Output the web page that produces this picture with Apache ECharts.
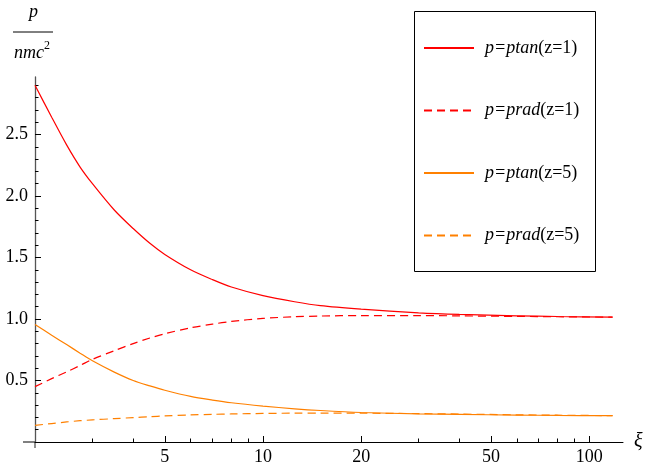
<!DOCTYPE html>
<html>
<head>
<meta charset="utf-8">
<script src="https://cdn.jsdelivr.net/npm/echarts@6/dist/echarts.min.js"></script>
<style>html,body{margin:0;padding:0;background:#fff}#c{width:649px;height:466px}</style>
</head>
<body>
<div id="c"></div>
<script>
// Data
const xi       = [2, 2.25, 2.5, 2.75, 3, 3.5, 4, 4.5, 5, 6, 7, 8, 10, 12.5, 15, 20, 30, 40, 60, 80, 118];
const ptanZ1   = [2.90, 2.64, 2.415, 2.235, 2.10, 1.886, 1.735, 1.615, 1.525, 1.40, 1.32, 1.26, 1.19, 1.14, 1.108, 1.08, 1.05, 1.037, 1.026, 1.02, 1.015];
const pradZ1   = [0.45, 0.515, 0.57, 0.622, 0.672, 0.742, 0.80, 0.845, 0.88, 0.928, 0.958, 0.98, 1.005, 1.018, 1.024, 1.028, 1.028, 1.025, 1.021, 1.018, 1.015];
const ptanZ5   = [0.955, 0.868, 0.792, 0.722, 0.66, 0.568, 0.50, 0.456, 0.421, 0.371, 0.341, 0.319, 0.292, 0.270, 0.256, 0.240, 0.229, 0.224, 0.219, 0.216, 0.214];
const pradZ5   = [0.135, 0.15, 0.163, 0.173, 0.18, 0.19, 0.198, 0.205, 0.212, 0.22, 0.225, 0.228, 0.232, 0.234, 0.234, 0.234, 0.231, 0.227, 0.221, 0.218, 0.214];
const seriesNames = ['p=ptan(z=1)', 'p=prad(z=1)', 'p=ptan(z=5)', 'p=prad(z=5)'];
const xMajorTicks = [5, 10, 20, 50, 100];
const xMinorTicks = [3, 4, 6, 7, 8, 9, 30, 40, 60, 70, 80, 90];
const yMajorTicks = [0.5, 1.0, 1.5, 2.0, 2.5];
const yMinorTicks = [0.1,0.2,0.3,0.4,0.6,0.7,0.8,0.9,1.1,1.2,1.3,1.4,1.6,1.7,1.8,1.9,2.1,2.2,2.3,2.4,2.6,2.7,2.8,2.9];

const pairs = ys => xi.map((x, i) => [x, ys[i]]);
const FONT = "'Liberation Serif', 'DejaVu Serif', serif";
const RED = '#ff0000', ORANGE = '#ff8000';

const chart = echarts.init(document.getElementById('c'), null, {renderer: 'canvas'});
const XMIN = 2, XMAX = 127, YMIN = 0, YMAX = 2.967;

function mkSeries(name, ys, color, dashed) {
  return {
    name, type: 'line', data: pairs(ys), smooth: 0.3,
    symbol: 'none', showSymbol: false,
    xAxisIndex: 0, yAxisIndex: 0,
    lineStyle: {color, width: 1.2, type: dashed ? [8, 5] : 'solid'},
    itemStyle: {color}, emphasis: {disabled: true}
  };
}

chart.setOption({
  animation: false,
  backgroundColor: '#fff',
  grid: {left: 35, right: 26, top: 77, bottom: 24, containLabel: false},
  legend: {
    orient: 'vertical', left: 414, top: 11,
    padding: [28, 17, 27, 9],
    itemGap: 44.5, itemWidth: 50, itemHeight: 20,
    itemStyle: {opacity: 0},
    data: seriesNames,
    formatter: n => {
      const m = n.match(/^(p=p\w+)(\(.*\))$/);
      return '{i|' + m[1] + '}{n|' + m[2] + '}';
    },
    textStyle: {
      rich: {
        i: {fontFamily: FONT, fontStyle: 'italic', fontSize: 18, color: '#000', lineHeight: 20, padding: [0, 0, 0, 6]},
        n: {fontFamily: FONT, fontSize: 18, color: '#000', lineHeight: 20}
      }
    }
  },
  xAxis: [{
    type: 'log', logBase: 10, min: XMIN, max: XMAX,
    name: 'ξ', nameLocation: 'end', nameGap: 11,
    nameTextStyle: {fontFamily: FONT, fontStyle: 'italic', fontSize: 20, color: '#000', verticalAlign: 'middle'},
    axisLine: {show: true, onZero: false, lineStyle: {color: '#000', width: 1}},
    axisTick: {show: true, inside: true, length: 6, customValues: xMajorTicks, lineStyle: {color: '#000'}},
    axisLabel: {show: true, customValues: xMajorTicks, fontFamily: FONT, fontSize: 18, color: '#000', margin: 6},
    splitLine: {show: false}, minorTick: {show: false}
  }, {
    type: 'log', logBase: 10, min: XMIN, max: XMAX, position: 'bottom',
    axisLine: {show: false},
    axisTick: {show: true, inside: true, length: 3.5, customValues: xMinorTicks, lineStyle: {color: '#000'}},
    axisLabel: {show: false}, splitLine: {show: false}
  }],
  yAxis: [{
    type: 'value', min: YMIN, max: YMAX,
    axisLine: {show: true, onZero: false, lineStyle: {color: '#555', width: 1.3}},
    axisTick: {show: true, inside: true, length: 6, customValues: yMajorTicks, lineStyle: {color: '#000'}},
    axisLabel: {show: true, customValues: yMajorTicks, formatter: v => v.toFixed(1), fontFamily: FONT, fontSize: 18, color: '#000', margin: 7},
    splitLine: {show: false}
  }, {
    type: 'value', min: YMIN, max: YMAX, position: 'left',
    axisLine: {show: false},
    axisTick: {show: true, inside: true, length: 3.5, customValues: yMinorTicks, lineStyle: {color: '#000'}},
    axisLabel: {show: false}, splitLine: {show: false}
  }],
  series: [
    mkSeries(seriesNames[0], ptanZ1, RED, false),
    mkSeries(seriesNames[1], pradZ1, RED, true),
    mkSeries(seriesNames[2], ptanZ5, ORANGE, false),
    mkSeries(seriesNames[3], pradZ5, ORANGE, true)
  ],
  graphic: [
    {type: 'rect', shape: {x: 414.5, y: 11.5, width: 181, height: 260}, style: {fill: 'none', stroke: '#000', lineWidth: 1}, z: 100},
    {type: 'line', shape: {x1: 23, y1: 442, x2: 35, y2: 442}, style: {stroke: '#000', lineWidth: 1}},
    {type: 'line', shape: {x1: 35, y1: 442, x2: 35, y2: 448}, style: {stroke: '#555', lineWidth: 1.3}},
    {type: 'text', left: 29, top: 3, style: {text: 'p', fontFamily: FONT, fontStyle: 'italic', fontSize: 18, fill: '#000'}},
    {type: 'line', shape: {x1: 13, y1: 32, x2: 53, y2: 32}, style: {stroke: '#000', lineWidth: 1}},
    {type: 'text', left: 14, top: 40, style: {
      text: '{i|nmc}{s|2}',
      rich: {
        i: {fontFamily: FONT, fontStyle: 'italic', fontSize: 18, fill: '#000', verticalAlign: 'bottom', lineHeight: 22},
        s: {fontFamily: FONT, fontSize: 12, fill: '#000', verticalAlign: 'top', padding: [0, 0, 9, 0], lineHeight: 22}
      }
    }}
  ]
});
</script>
</body>
</html>
